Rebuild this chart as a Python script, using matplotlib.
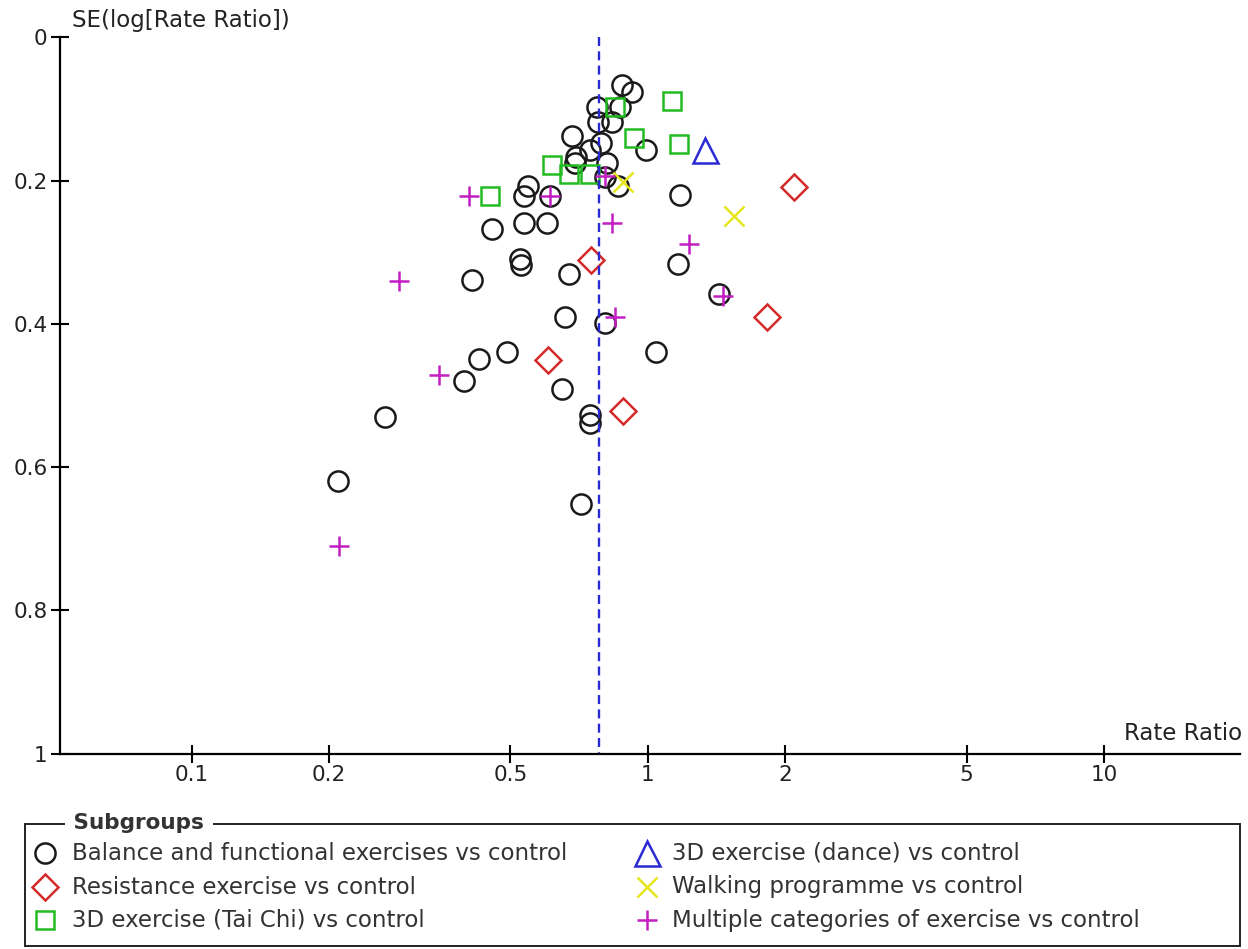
import matplotlib
matplotlib.use("Agg")
import matplotlib.pyplot as plt
from matplotlib.lines import Line2D
from matplotlib.patches import Rectangle

plt.rcParams['font.family'] = ['DejaVu Sans']
plt.rcParams['lines.scale_dashes'] = False

# ---- data ----
balance_rr = [0.876, 0.924, 0.772, 0.869, 0.776, 0.835, 0.681, 0.789, 0.993, 0.746,
              0.695, 0.692, 0.812, 0.805, 0.861, 0.546, 0.534, 0.610, 1.176, 0.456,
              0.534, 0.602, 0.524, 0.528, 0.671, 1.162, 0.412, 1.431, 0.658, 0.805,
              1.044, 0.426, 0.491, 0.396, 0.649, 0.748, 0.748, 0.265, 0.209, 0.715]
balance_se = [0.067, 0.076, 0.097, 0.097, 0.118, 0.118, 0.138, 0.148, 0.157, 0.157,
              0.167, 0.176, 0.176, 0.195, 0.207, 0.207, 0.221, 0.221, 0.220, 0.268,
              0.259, 0.259, 0.309, 0.318, 0.330, 0.317, 0.339, 0.359, 0.390, 0.399,
              0.440, 0.449, 0.440, 0.480, 0.491, 0.527, 0.538, 0.530, 0.620, 0.652]

resist_rr = [2.09, 0.749, 1.821, 0.605, 0.883]
resist_se = [0.209, 0.311, 0.391, 0.450, 0.522]

taichi_rr = [0.846, 1.130, 0.931, 1.170, 0.618, 0.672, 0.746, 0.451]
taichi_se = [0.098, 0.089, 0.140, 0.149, 0.179, 0.191, 0.191, 0.221]

dance_rr = [1.338]
dance_se = [0.158]

walking_rr = [0.883, 1.546]
walking_se = [0.202, 0.250]

multi_rr = [0.406, 0.610, 0.805, 0.836, 1.231, 0.285, 1.462, 0.846, 0.348, 0.210]
multi_se = [0.221, 0.221, 0.193, 0.259, 0.288, 0.340, 0.361, 0.391, 0.471, 0.710]

pooled_rr = 0.78

x_ticks = [0.1, 0.2, 0.5, 1, 2, 5, 10]
x_tick_labels = ["0.1", "0.2", "0.5", "1", "2", "5", "10"]
y_ticks = [0, 0.2, 0.4, 0.6, 0.8, 1]
y_tick_labels = ["0", "0.2", "0.4", "0.6", "0.8", "1"]

groups = [
    ("Balance and functional exercises vs control", balance_rr, balance_se, 'o', '#1a1a1a', 14.5),
    ("Resistance exercise vs control", resist_rr, resist_se, 'D', '#d42a2a', 13.5),
    ("3D exercise (Tai Chi) vs control", taichi_rr, taichi_se, 's', '#22bb22', 13.0),
    ("3D exercise (dance) vs control", dance_rr, dance_se, '^', '#2a2ad4', 18.0),
    ("Walking programme vs control", walking_rr, walking_se, 'x', '#e6e61a', 15.0),
    ("Multiple categories of exercise vs control", multi_rr, multi_se, '+', '#c21ec2', 15.0),
]

# ---- figure ----
W, H = 1248, 949
fig = plt.figure(figsize=(W / 100, H / 100), dpi=100)

def fx(px):
    return px / W

def fy(py):
    return 1 - py / H

ax_left, ax_right, ax_top, ax_bottom = 59.5, 1240, 37.3, 753.5
ax = fig.add_axes([fx(ax_left), fy(ax_bottom), fx(ax_right - ax_left), (ax_bottom - ax_top) / H])

ax.set_xscale('log')
dec = 456.2
one_px = 647.8
ax.set_xlim(10 ** ((ax_left - one_px) / dec), 10 ** ((ax_right - one_px) / dec))
ax.set_ylim(1, 0)

for label, rr, se, mk, col, ms in groups:
    ax.plot(rr, se, linestyle='none', marker=mk, markersize=ms, markerfacecolor='none',
            markeredgecolor=col, markeredgewidth=1.8, clip_on=False)

ax.plot([pooled_rr, pooled_rr], [0, 1], color='#2a2ad4', linewidth=1.7,
        dashes=(6.5, 3.8))

for s in ['top', 'right']:
    ax.spines[s].set_visible(False)
for s in ['left', 'bottom']:
    ax.spines[s].set_linewidth(1.6)
    ax.spines[s].set_color('black')

ax.set_xticks(x_ticks)
ax.set_xticklabels(x_tick_labels)
ax.xaxis.set_minor_locator(matplotlib.ticker.NullLocator())
ax.set_yticks(y_ticks)
ax.set_yticklabels(y_tick_labels)
ax.tick_params(axis='both', direction='inout', length=13, width=1.5, labelsize=15.5,
               colors='black', labelcolor='#222222')
ax.tick_params(axis='x', pad=2)
ax.tick_params(axis='y', pad=2)

fig.text(fx(72), fy(21), "SE(log[Rate Ratio])", fontsize=16.5, color='#222222',
         ha='left', va='center')
fig.text(fx(1242), fy(733), "Rate Ratio", fontsize=16.5, color='#222222',
         ha='right', va='center')

# ---- legend (drawn manually to match layout) ----
box_l, box_r, box_t, box_b = 25, 1240, 824, 946
fig.add_artist(Rectangle((fx(box_l), fy(box_b)), fx(box_r - box_l), (box_b - box_t) / H,
                         transform=fig.transFigure, fill=False, edgecolor='#222222',
                         linewidth=1.4))
fig.text(fx(66), fy(823), " Subgroups ", fontsize=15.5, fontweight='bold', color='#333333',
         ha='left', va='center',
         bbox=dict(facecolor='white', edgecolor='none', pad=1))

rows_y = [853, 887, 920]
cols = [(45, 72), (647, 672)]
for i, (label, rr, se, mk, col, ms) in enumerate(groups):
    c = i // 3
    r = i % 3
    mx, tx = cols[c]
    y = rows_y[r]
    fig.add_artist(Line2D([fx(mx)], [fy(y)], transform=fig.transFigure, linestyle='none',
                          marker=mk, markersize=ms, markerfacecolor='none',
                          markeredgecolor=col, markeredgewidth=1.8))
    fig.text(fx(tx), fy(y), label, fontsize=16.5, color='#333333', ha='left', va='center')

fig.savefig("out.png", dpi=100, facecolor='white')
